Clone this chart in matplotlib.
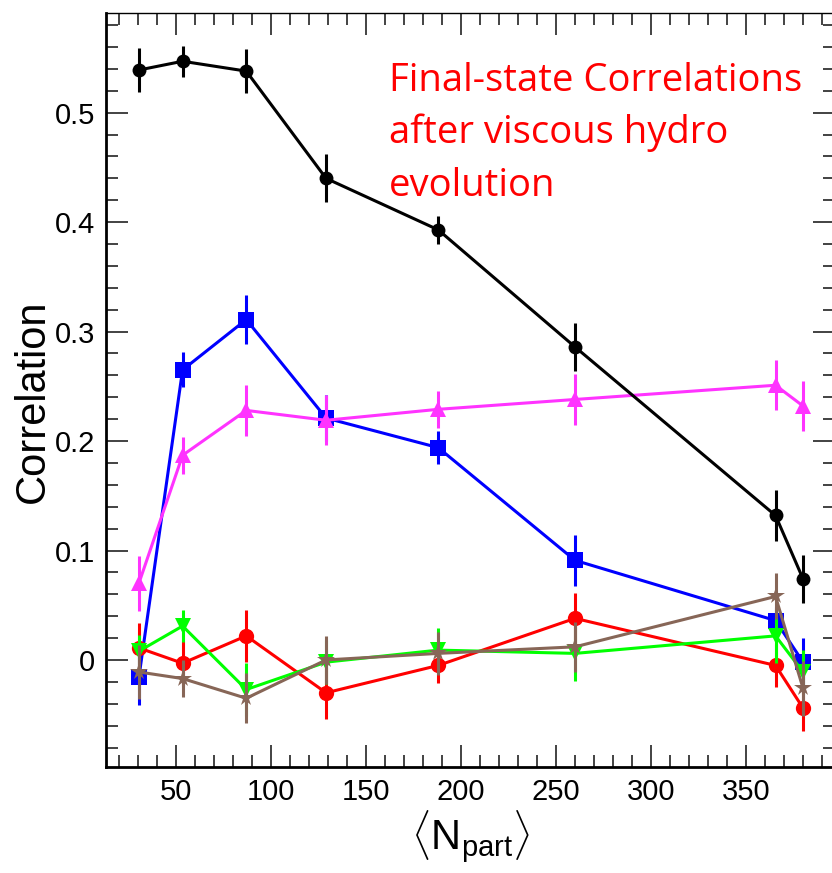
import matplotlib
matplotlib.use('Agg')
from matplotlib import pyplot
from matplotlib.ticker import MultipleLocator, FuncFormatter

# data
n_part = [30.5, 53.5, 87, 129, 188, 260, 365.5, 380]

black_y = [0.539, 0.547, 0.538, 0.440, 0.393, 0.286, 0.132, 0.074]
black_err = [0.020, 0.014, 0.020, 0.022, 0.013, 0.022, 0.023, 0.022]

blue_y = [-0.016, 0.265, 0.311, 0.221, 0.194, 0.091, 0.036, -0.002]
blue_err = [0.025, 0.016, 0.022, 0.021, 0.015, 0.023, 0.012, 0.022]

magenta_y = [0.070, 0.187, 0.228, 0.219, 0.229, 0.238, 0.251, 0.232]
magenta_err = [0.025, 0.017, 0.023, 0.023, 0.017, 0.023, 0.023, 0.023]

red_y = [0.011, -0.003, 0.022, -0.030, -0.005, 0.038, -0.005, -0.044]
red_err = [0.023, 0.021, 0.024, 0.024, 0.016, 0.023, 0.020, 0.021]

green_y = [0.008, 0.031, -0.027, -0.002, 0.009, 0.006, 0.022, -0.011]
green_err = [0.015, 0.015, 0.024, 0.020, 0.020, 0.025, 0.025, 0.020]

brown_y = [-0.011, -0.017, -0.035, 0.000, 0.006, 0.012, 0.058, -0.026]
brown_err = [0.025, 0.017, 0.023, 0.022, 0.020, 0.023, 0.021, 0.025]

note_lines = ['Final-state Correlations', 'after viscous hydro', 'evolution']

# style: (values, errors, color, marker, markersize, zorder)
series = [
    (blue_y, blue_err, '#0000ff', 's', 11, 3),
    (magenta_y, magenta_err, '#ff33ff', '^', 11, 4),
    (red_y, red_err, '#ff0000', 'o', 11, 5),
    (green_y, green_err, '#00ff00', 'v', 11, 6),
    (brown_y, brown_err, '#876657', '*', 13, 7),
    (black_y, black_err, '#000000', 'o', 10, 8),
]

pyplot.rcParams['mathtext.fontset'] = 'custom'
pyplot.rcParams['mathtext.rm'] = 'Liberation Sans'
pyplot.rcParams['mathtext.it'] = 'Liberation Sans:italic'

figure = pyplot.figure(figsize=(8.32, 8.73), dpi=100)
axes = figure.add_axes([106 / 832, 1 - 767 / 873, 729 / 832, 754 / 873])

for values, errors, color, marker, size, z in series:
    axes.errorbar(n_part, values, yerr=errors, color=color, marker=marker,
                  markersize=size, linewidth=2.2, elinewidth=2.2, capsize=0,
                  markeredgewidth=0, zorder=z)

axes.set_xlim(13.2, 396.8)
axes.set_ylim(-0.0978, 0.5911)

# ROOT-like ticks on all four sides, pointing inwards
axes.xaxis.set_major_locator(MultipleLocator(50))
axes.xaxis.set_minor_locator(MultipleLocator(10))
axes.yaxis.set_major_locator(MultipleLocator(0.1))
axes.yaxis.set_minor_locator(MultipleLocator(0.02))
axes.yaxis.set_major_formatter(FuncFormatter(lambda v, p: '%g' % round(v, 3)))
axes.tick_params(which='both', direction='in', top=True, right=True,
                 width=1.2, colors='#222222')
axes.tick_params(which='major', length=16, labelsize=21, pad=8, labelcolor='black')
axes.tick_params(which='minor', length=8.5)
for label in axes.get_xticklabels() + axes.get_yticklabels():
    label.set_fontfamily('Liberation Sans')

axes.spines['left'].set_linewidth(2.0)
axes.spines['bottom'].set_linewidth(2.0)
axes.spines['top'].set_linewidth(1.0)
axes.spines['right'].set_linewidth(1.0)

axes.set_ylabel('Correlation', fontsize=30, family='Liberation Sans')
axes.yaxis.set_label_coords(-0.073, 0.485)
axes.set_xlabel(r'$\langle\mathrm{N}_{\mathrm{part}}\rangle$', fontsize=30, labelpad=2)

# red annotation, one line at a time
for i, line in enumerate(note_lines):
    axes.text(0.388, [0.897, 0.8276, 0.7573][i], line, transform=axes.transAxes,
              color='#ff0000', fontsize=27.5, family='Open Sans', va='baseline', ha='left',
              zorder=10)

figure.savefig('out.png', dpi=100)
